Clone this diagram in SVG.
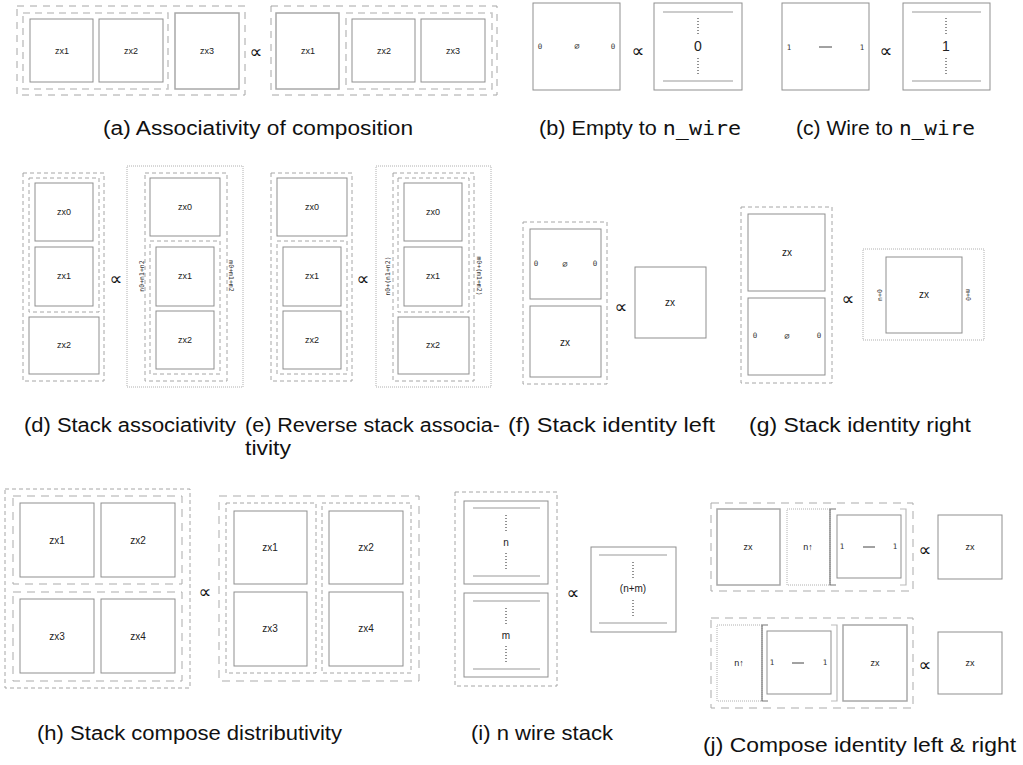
<svg xmlns="http://www.w3.org/2000/svg" width="1023" height="765" viewBox="0 0 1023 765">
<style>
.bg{fill:#fff}
.box{fill:#fff;stroke:#8f8f8f;stroke-width:1}
.box2{fill:none;stroke:#a8a8a8;stroke-width:1.5}
.dash{fill:none;stroke:#a6a6a6;stroke-width:1;stroke-dasharray:4 3}
.bdash{fill:none;stroke:#ababab;stroke-width:1;stroke-dasharray:8 6}
.wdash{fill:none;stroke:#c8c8c8;stroke-width:1.6;stroke-dasharray:7 5}
.dot{fill:none;stroke:#b0b0b0;stroke-width:1;stroke-dasharray:1 1}
.wire{stroke:#999;stroke-width:1}
.vd{stroke:#222;stroke-width:1;stroke-dasharray:1 2}
.lbl{font-family:"Liberation Sans",Arial,sans-serif;font-size:9px;text-anchor:middle;fill:#222}
.lbl2{font-family:"Liberation Sans",Arial,sans-serif;font-size:10px;text-anchor:middle;fill:#222}
.big{font-family:"Liberation Sans",Arial,sans-serif;font-size:14px;text-anchor:middle;fill:#222}
.mono{font-family:"DejaVu Sans Mono",monospace;font-size:7.5px;text-anchor:middle;fill:#333}
.rot{font-family:"DejaVu Sans Mono",monospace;font-size:6.5px;text-anchor:middle;fill:#333}
.prop{font-family:"DejaVu Sans",sans-serif;font-size:18px;text-anchor:middle;fill:#111}
.cap{font-family:"Liberation Sans",Arial,sans-serif;font-size:20px;fill:#111}
.tt{font-family:"DejaVu Sans Mono","Liberation Mono",monospace}
.brk{fill:none;stroke:#999;stroke-width:1.2}
</style>
<rect class="bg" width="1023" height="765"/>

<!-- (a) -->
<g id="a-left">
<rect class="dash" x="17" y="6" width="228" height="89" style="stroke-dasharray:7 6"/>
<rect class="wdash" x="23" y="13" width="145" height="76"/>
<rect class="box" x="30" y="19" width="63" height="63"/><text class="lbl" x="62" y="54">zx1</text>
<rect class="box" x="99" y="19" width="64" height="63"/><text class="lbl" x="131" y="54">zx2</text>
<rect class="box box2" x="175" y="13" width="64" height="76"/><text class="lbl" x="207" y="54">zx3</text>
</g>
<text class="prop" x="256" y="58">∝</text>
<g id="a-right">
<rect class="dash" x="271" y="6" width="226" height="89" style="stroke-dasharray:7 6"/>
<rect class="box box2" x="276" y="13" width="63" height="76"/><text class="lbl" x="308" y="54">zx1</text>
<rect class="wdash" x="346" y="13" width="146" height="76"/>
<rect class="box" x="352" y="19" width="63" height="63"/><text class="lbl" x="384" y="54">zx2</text>
<rect class="box" x="421" y="19" width="64" height="63"/><text class="lbl" x="453" y="54">zx3</text>
</g>

<!-- (b) -->
<g id="b-left">
<rect class="box" x="533" y="3" width="87" height="87"/>
<text class="mono" x="540" y="49">0</text><text class="mono" x="577" y="49" style="font-size:9px">∅</text><text class="mono" x="613" y="49">0</text>
</g>
<text class="prop" x="638" y="57">∝</text>
<g id="b-right">
<rect class="box" x="654" y="3" width="88" height="87"/>
<line class="wire" x1="663" y1="12" x2="733" y2="12"/><line class="wire" x1="663" y1="81" x2="733" y2="81"/>
<line class="vd" x1="698" y1="18" x2="698" y2="34"/><line class="vd" x1="698" y1="58" x2="698" y2="74"/>
<text class="big" x="698" y="51">0</text>
</g>

<!-- (c) -->
<g id="c-left">
<rect class="box" x="782" y="3" width="87" height="87"/>
<text class="mono" x="789" y="50">1</text><line x1="819" y1="47" x2="832" y2="47" stroke="#444" stroke-width="1"/><text class="mono" x="862" y="50">1</text>
</g>
<text class="prop" x="886" y="57">∝</text>
<g id="c-right">
<rect class="box" x="903" y="3" width="87" height="87"/>
<line class="wire" x1="912" y1="12" x2="981" y2="12"/><line class="wire" x1="912" y1="81" x2="981" y2="81"/>
<line class="vd" x1="946" y1="18" x2="946" y2="34"/><line class="vd" x1="946" y1="58" x2="946" y2="74"/>
<text class="big" x="946" y="51">1</text>
</g>

<text class="cap" x="103" y="135" textLength="310" lengthAdjust="spacingAndGlyphs">(a) Associativity of composition</text>
<text class="cap" x="539" y="135" textLength="202" lengthAdjust="spacingAndGlyphs">(b) Empty to <tspan class="tt">n_wire</tspan></text>
<text class="cap" x="796" y="135" textLength="179" lengthAdjust="spacingAndGlyphs">(c) Wire to <tspan class="tt">n_wire</tspan></text>

<!-- (d) -->
<g id="d-left">
<rect class="dash" x="23" y="173" width="81" height="208"/>
<rect class="dash" x="29" y="178" width="70" height="134"/>
<rect class="box" x="35" y="183" width="58" height="58"/><text class="lbl" x="64" y="215">zx0</text>
<rect class="box" x="35" y="247" width="58" height="59"/><text class="lbl" x="64" y="279">zx1</text>
<rect class="box" x="29" y="317" width="70" height="57"/><text class="lbl" x="64" y="348">zx2</text>
</g>
<text class="prop" x="116" y="285">∝</text>
<g id="d-right">
<rect class="dot" x="127" y="166" width="116" height="221"/>
<rect class="dash" x="145" y="173" width="82" height="208"/>
<rect class="box" x="150" y="178" width="70" height="58"/><text class="lbl" x="185" y="210">zx0</text>
<rect class="dash" x="150" y="241" width="70" height="133"/>
<rect class="box" x="156" y="247" width="58" height="59"/><text class="lbl" x="185" y="279">zx1</text>
<rect class="box" x="156" y="311" width="58" height="58"/><text class="lbl" x="185" y="343">zx2</text>
<text class="rot" transform="translate(144 276) rotate(-90)">n0+n1+n2</text>
<text class="rot" transform="translate(229 276) rotate(90)">m0+m1+m2</text>
</g>

<!-- (e) -->
<g id="e-left">
<rect class="dash" x="271" y="173" width="81" height="208"/>
<rect class="box" x="277" y="178" width="70" height="58"/><text class="lbl" x="312" y="210">zx0</text>
<rect class="dash" x="277" y="241" width="70" height="133"/>
<rect class="box" x="283" y="247" width="58" height="59"/><text class="lbl" x="312" y="279">zx1</text>
<rect class="box" x="283" y="311" width="58" height="58"/><text class="lbl" x="312" y="343">zx2</text>
</g>
<text class="prop" x="363" y="285">∝</text>
<g id="e-right">
<rect class="dot" x="376" y="166" width="115" height="221"/>
<rect class="dash" x="393" y="173" width="81" height="208"/>
<rect class="dash" x="398" y="178" width="71" height="134"/>
<rect class="box" x="404" y="183" width="58" height="58"/><text class="lbl" x="433" y="215">zx0</text>
<rect class="box" x="404" y="247" width="58" height="59"/><text class="lbl" x="433" y="279">zx1</text>
<rect class="box" x="398" y="317" width="71" height="57"/><text class="lbl" x="433" y="348">zx2</text>
<text class="rot" transform="translate(390 276) rotate(-90)">n0+(n1+n2)</text>
<text class="rot" transform="translate(477 276) rotate(90)">m0+(m1+m2)</text>
</g>

<!-- (f) -->
<g id="f-left">
<rect class="dash" x="523" y="222" width="84" height="162"/>
<rect class="box" x="530" y="229" width="71" height="70"/>
<text class="mono" x="536" y="266">0</text><text class="mono" x="565" y="267" style="font-size:9px">∅</text><text class="mono" x="595" y="266">0</text>
<rect class="box" x="530" y="306" width="71" height="71"/><text class="lbl2" x="565" y="346">zx</text>
</g>
<text class="prop" x="621" y="313">∝</text>
<g id="f-right">
<rect class="box" x="635" y="267" width="71" height="71"/><text class="lbl2" x="670" y="306">zx</text>
</g>

<!-- (g) -->
<g id="g-left">
<rect class="dash" x="741" y="207" width="91" height="176"/>
<rect class="box" x="748" y="214" width="77" height="77"/><text class="lbl2" x="787" y="256">zx</text>
<rect class="box" x="748" y="298" width="77" height="77"/>
<text class="mono" x="755" y="338">0</text><text class="mono" x="787" y="339" style="font-size:9px">∅</text><text class="mono" x="819" y="338">0</text>
</g>
<text class="prop" x="848" y="305">∝</text>
<g id="g-right">
<rect class="dot" x="863" y="249" width="121" height="91"/>
<rect class="box" x="886" y="257" width="76" height="76"/><text class="lbl2" x="924" y="298">zx</text>
<text class="rot" transform="translate(882 295) rotate(-90)">n+0</text>
<text class="rot" transform="translate(966 295) rotate(90)">m+0</text>
</g>

<text class="cap" x="24" y="432" textLength="212" lengthAdjust="spacingAndGlyphs">(d) Stack associativity</text>
<text class="cap" x="245" y="432" textLength="255" lengthAdjust="spacingAndGlyphs">(e) Reverse stack associa-</text>
<text class="cap" x="245" y="455" textLength="46" lengthAdjust="spacingAndGlyphs">tivity</text>
<text class="cap" x="508" y="432" textLength="207" lengthAdjust="spacingAndGlyphs">(f) Stack identity left</text>
<text class="cap" x="749" y="432" textLength="222" lengthAdjust="spacingAndGlyphs">(g) Stack identity right</text>

<!-- (h) -->
<g id="h-left">
<rect class="dash" x="5" y="489" width="185" height="199"/>
<rect class="bdash" x="13" y="496" width="169" height="88"/>
<rect class="bdash" x="13" y="592" width="169" height="89"/>
<rect class="box" x="20" y="503" width="74" height="74"/><text class="lbl2" x="57" y="544">zx1</text>
<rect class="box" x="101" y="503" width="74" height="74"/><text class="lbl2" x="138" y="544">zx2</text>
<rect class="box" x="20" y="599" width="74" height="74"/><text class="lbl2" x="57" y="640">zx3</text>
<rect class="box" x="101" y="599" width="74" height="74"/><text class="lbl2" x="138" y="640">zx4</text>
</g>
<text class="prop" x="205" y="598">∝</text>
<g id="h-right">
<rect class="bdash" x="219" y="496" width="200" height="185"/>
<rect class="dash" x="226" y="503" width="90" height="170"/>
<rect class="dash" x="322" y="503" width="89" height="170"/>
<rect class="box" x="234" y="511" width="73" height="73"/><text class="lbl2" x="270" y="551">zx1</text>
<rect class="box" x="329" y="511" width="74" height="73"/><text class="lbl2" x="366" y="551">zx2</text>
<rect class="box" x="234" y="592" width="73" height="74"/><text class="lbl2" x="270" y="632">zx3</text>
<rect class="box" x="329" y="592" width="74" height="74"/><text class="lbl2" x="366" y="632">zx4</text>
</g>

<!-- (i) -->
<g id="i-left">
<rect class="dash" x="455" y="492" width="102" height="194"/>
<rect class="box" x="464" y="501" width="84" height="83"/>
<line class="wire" x1="473" y1="508" x2="540" y2="508"/><line class="wire" x1="473" y1="576" x2="540" y2="576"/>
<line class="vd" x1="506" y1="515" x2="506" y2="531"/><line class="vd" x1="506" y1="553" x2="506" y2="569"/>
<text class="lbl2" x="506" y="546">n</text>
<rect class="box" x="464" y="593" width="84" height="84"/>
<line class="wire" x1="473" y1="601" x2="540" y2="601"/><line class="wire" x1="473" y1="669" x2="540" y2="669"/>
<line class="vd" x1="506" y1="608" x2="506" y2="624"/><line class="vd" x1="506" y1="646" x2="506" y2="662"/>
<text class="lbl2" x="506" y="639">m</text>
</g>
<text class="prop" x="573" y="599">∝</text>
<g id="i-right">
<rect class="box" x="591" y="547" width="85" height="85"/>
<line class="wire" x1="599" y1="555" x2="667" y2="555"/><line class="wire" x1="599" y1="623" x2="667" y2="623"/>
<line class="vd" x1="633" y1="562" x2="633" y2="578"/><line class="vd" x1="633" y1="600" x2="633" y2="616"/>
<text class="lbl2" x="633" y="592">(n+m)</text>
</g>

<!-- (j) top -->
<g id="j-top-left">
<rect class="bdash" x="711" y="503" width="202" height="88"/>
<rect class="box box2" x="717" y="509" width="63" height="76"/><text class="lbl" x="748" y="550">zx</text>
<rect class="dot" x="787" y="509" width="43" height="76"/><text class="lbl" x="808" y="550">n↑</text>
<path class="brk" d="M836,509 H830 V585 H836" style="stroke:#777"/>
<path class="brk" d="M900,509 H906 V585 H900" style="stroke:#bbb"/>
<rect class="box" x="837" y="515" width="64" height="63"/>
<text class="mono" x="842" y="549">1</text><line x1="863" y1="547" x2="875" y2="547" stroke="#444"/><text class="mono" x="895" y="549">1</text>
</g>
<text class="prop" x="925" y="556">∝</text>
<g id="j-top-right">
<rect class="box" x="938" y="515" width="64" height="64"/><text class="lbl" x="970" y="550">zx</text>
</g>
<!-- (j) bottom -->
<g id="j-bot-left">
<rect class="bdash" x="711" y="618" width="202" height="90"/>
<rect class="dot" x="717" y="625" width="45" height="76"/><text class="lbl" x="739" y="666">n↑</text>
<path class="brk" d="M768,625 H762 V701 H768" style="stroke:#777"/>
<path class="brk" d="M831,625 H837 V701 H831" style="stroke:#bbb"/>
<rect class="box" x="767" y="631" width="64" height="63"/>
<text class="mono" x="772" y="665">1</text><line x1="792" y1="663" x2="804" y2="663" stroke="#444"/><text class="mono" x="825" y="665">1</text>
<rect class="box box2" x="843" y="625" width="64" height="76"/><text class="lbl" x="875" y="666">zx</text>
</g>
<text class="prop" x="925" y="671">∝</text>
<g id="j-bot-right">
<rect class="box" x="938" y="632" width="64" height="62"/><text class="lbl" x="970" y="666">zx</text>
</g>

<text class="cap" x="37" y="740" textLength="305" lengthAdjust="spacingAndGlyphs">(h) Stack compose distributivity</text>
<text class="cap" x="471" y="740" textLength="142" lengthAdjust="spacingAndGlyphs">(i) n wire stack</text>
<text class="cap" x="703" y="752" textLength="313" lengthAdjust="spacingAndGlyphs">(j) Compose identity left &amp; right</text>
</svg>
